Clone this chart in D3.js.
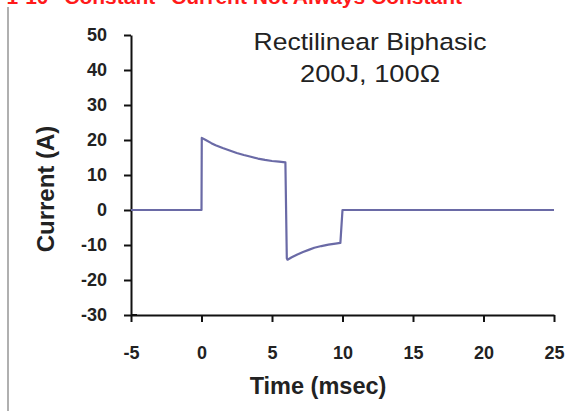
<!DOCTYPE html>
<html><head><meta charset="utf-8">
<script src="https://cdn.jsdelivr.net/npm/d3@7"></script>
<style>body{margin:0;background:#fff}svg{display:block}</style>
</head><body>
<script>
const timeMs = [-5, 0, 0.02, 0.3, 0.7, 1, 1.5, 2, 2.5, 3, 3.5, 4, 4.5, 5, 5.5, 5.95, 6.05, 6.1, 6.4, 6.8, 7.2, 7.6, 8, 8.5, 9, 9.5, 9.85, 10, 25];
const currentA = [0, 0, 20.6, 20.0, 19.1, 18.5, 17.7, 17.0, 16.3, 15.7, 15.2, 14.7, 14.3, 14.0, 13.8, 13.6, -13.8, -14.2, -13.5, -12.7, -12.0, -11.4, -10.8, -10.3, -9.9, -9.6, -9.4, 0, 0];
const xTicks = [-5, 0, 5, 10, 15, 20, 25];
const yTicks = [-30, -20, -10, 0, 10, 20, 30, 40, 50];
const titleText = 'Figure 1-10 "Constant" Current Not Always Constant';
const noteLines = ["Rectilinear Biphasic", "200J, 100\u03A9"];

const W = 582, H = 411;
const svg = d3.select("body").append("svg").attr("width", W).attr("height", H);
const font = "Arial, 'Liberation Sans', sans-serif";

// slide frame line
svg.append("line").attr("x1", 8).attr("x2", 8).attr("y1", 7).attr("y2", H)
  .attr("stroke", "#b0b0b0").attr("stroke-width", 2);

// cut-off red title (cropped at the top edge as in the reference)
svg.append("text").attr("x", 462).attr("y", 3.5).attr("text-anchor", "end")
  .attr("font-family", font).attr("font-weight", "bold").attr("font-size", 21)
  .attr("fill", "#ff1a1a").text(titleText);

const x = d3.scaleLinear().domain([-5, 25]).range([131, 554]);
const y = d3.scaleLinear().domain([-30, 50]).range([315, 35]);

const xAxis = svg.append("g").attr("transform", "translate(0,315)")
  .call(d3.axisBottom(x).tickValues(xTicks).tickFormat(d => String(d))
    .tickSize(7).tickSizeOuter(0).tickPadding(24));
const yAxis = svg.append("g").attr("transform", "translate(131,0)")
  .call(d3.axisLeft(y).tickValues(yTicks).tickFormat(d => String(d))
    .tickSize(7).tickSizeOuter(0).tickPadding(17));
[xAxis, yAxis].forEach(g => {
  g.attr("font-size", 18).attr("font-family", font);
  g.select(".domain").attr("stroke", "#111").attr("stroke-width", 2);
  g.selectAll(".tick line").attr("stroke", "#111").attr("stroke-width", 2);
  g.selectAll(".tick text").attr("font-weight", "bold").attr("fill", "#222");
});
svg.append("line").attr("x1", x(-5)).attr("x2", x(-5) + 6).attr("y1", y(-30)).attr("y2", y(-30))
  .attr("stroke", "#111").attr("stroke-width", 2);

// line
const line = d3.line().x((d, i) => x(timeMs[i])).y((d, i) => y(currentA[i]));
svg.append("path").datum(currentA).attr("d", line).attr("fill", "none")
  .attr("stroke", "#6a6aa6").attr("stroke-width", 2.2).attr("stroke-linejoin", "round");

// axis titles
svg.append("text").attr("x", 318).attr("y", 394).attr("text-anchor", "middle")
  .attr("font-family", font).attr("font-weight", "bold").attr("font-size", 23.5)
  .attr("fill", "#222").text("Time (msec)");
svg.append("text").attr("transform", "translate(54,189) rotate(-90)").attr("text-anchor", "middle")
  .attr("font-family", font).attr("font-weight", "bold").attr("font-size", 24)
  .attr("fill", "#222").text("Current (A)");

// annotation
const noteWidths = [233, 140];
svg.append("g").selectAll("text").data(noteLines).join("text")
  .attr("x", 370).attr("y", (d, i) => 50 + i * 32).attr("text-anchor", "middle")
  .attr("font-family", font).attr("font-size", 24.5).attr("fill", "#222")
  .attr("textLength", (d, i) => noteWidths[i]).attr("lengthAdjust", "spacingAndGlyphs")
  .text(d => d);
</script>
</body></html>
